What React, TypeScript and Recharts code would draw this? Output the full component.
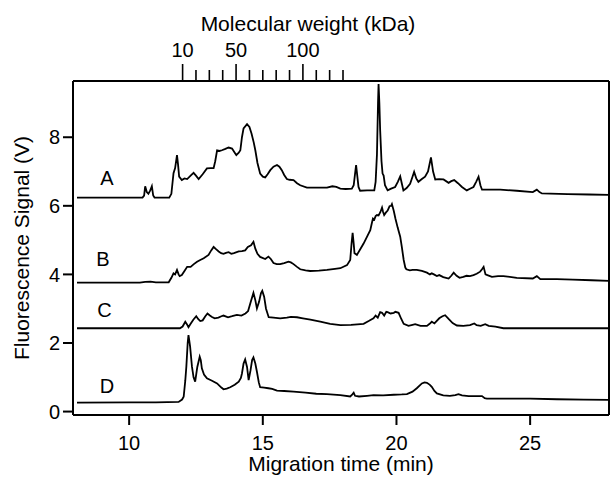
import { LineChart, Line, XAxis, YAxis, ReferenceDot } from 'recharts'

// electropherogram traces, [migration time (min), signal (V)]
const TRACE_A: [number, number][] = [
  [8.05,6.24],[10.5,6.24],[10.56,6.3],[10.6,6.57],[10.66,6.4],[10.72,6.35],[10.79,6.45],[10.85,6.57],[10.9,6.3],[10.95,6.24],
  [11.5,6.24],[11.58,6.35],[11.66,6.95],[11.72,7.1],[11.79,7.48],[11.83,7.2],[11.87,6.85],[11.97,6.75],[12.07,6.8],[12.17,6.78],
  [12.3,6.88],[12.41,6.96],[12.5,6.88],[12.6,6.78],[12.75,6.92],[12.91,7.09],[13.05,7.1],[13.16,7.1],[13.22,7.3],[13.29,7.62],
  [13.38,7.6],[13.47,7.62],[13.6,7.66],[13.72,7.7],[13.85,7.67],[13.95,7.55],[14.01,7.48],[14.1,7.55],[14.16,7.62],[14.22,8.0],
  [14.28,8.26],[14.41,8.38],[14.5,8.3],[14.58,8.1],[14.66,7.85],[14.72,7.62],[14.8,7.25],[14.9,6.94],[15.0,6.85],[15.09,6.83],
  [15.18,6.92],[15.28,7.04],[15.4,7.14],[15.53,7.19],[15.62,7.14],[15.71,7.04],[15.8,6.9],[15.9,6.78],[16.0,6.76],[16.15,6.75],
  [16.28,6.66],[16.4,6.6],[16.65,6.53],[17.0,6.53],[17.4,6.53],[17.6,6.57],[17.75,6.55],[17.9,6.5],[18.1,6.49],[18.33,6.5],
  [18.4,6.6],[18.46,7.0],[18.49,7.19],[18.53,6.9],[18.58,6.55],[18.64,6.44],[18.9,6.45],[19.17,6.45],[19.22,6.7],[19.27,7.5],
  [19.31,9.0],[19.33,9.55],[19.36,9.0],[19.39,8.2],[19.44,7.3],[19.48,6.94],[19.52,6.88],[19.57,6.6],[19.67,6.45],[19.8,6.5],
  [19.95,6.55],[20.05,6.7],[20.14,6.86],[20.2,6.65],[20.26,6.45],[20.38,6.52],[20.51,6.64],[20.6,6.85],[20.66,6.99],[20.74,6.8],
  [20.82,6.7],[20.95,6.78],[21.07,6.85],[21.18,7.0],[21.29,7.41],[21.37,7.0],[21.45,6.77],[21.6,6.78],[21.76,6.77],[21.95,6.67],
  [22.05,6.72],[22.16,6.75],[22.3,6.66],[22.45,6.55],[22.63,6.45],[22.75,6.5],[22.88,6.55],[22.98,6.7],[23.07,6.85],[23.14,6.6],
  [23.2,6.47],[23.5,6.47],[23.88,6.47],[24.5,6.44],[25.1,6.4],[25.25,6.47],[25.35,6.4],[25.44,6.36],[26.4,6.34],[27.2,6.33],[27.95,6.32],
]

const TRACE_B: [number, number][] = [
  [8.05,3.76],[10.4,3.76],[10.6,3.78],[10.8,3.79],[11.0,3.77],[11.48,3.77],[11.58,3.9],[11.66,4.03],[11.72,4.0],[11.79,4.13],
  [11.85,4.0],[11.89,3.95],[11.97,3.98],[12.07,4.1],[12.17,4.22],[12.3,4.22],[12.42,4.3],[12.54,4.37],[12.66,4.42],[12.79,4.47],
  [12.97,4.57],[13.07,4.7],[13.16,4.8],[13.26,4.73],[13.35,4.67],[13.44,4.62],[13.53,4.6],[13.62,4.63],[13.72,4.65],[13.82,4.6],
  [13.92,4.62],[14.1,4.67],[14.22,4.68],[14.34,4.7],[14.44,4.8],[14.56,4.85],[14.65,4.95],[14.72,4.75],[14.8,4.6],[14.9,4.51],
  [15.09,4.45],[15.21,4.52],[15.3,4.45],[15.4,4.33],[15.52,4.3],[15.65,4.3],[15.8,4.33],[15.96,4.37],[16.05,4.35],[16.15,4.3],
  [16.28,4.22],[16.4,4.15],[16.6,4.12],[16.77,4.1],[17.1,4.11],[17.4,4.13],[17.7,4.16],[17.9,4.18],[18.15,4.27],[18.27,4.42],
  [18.32,4.9],[18.36,5.21],[18.4,4.9],[18.43,4.62],[18.52,4.57],[18.65,4.74],[18.77,4.9],[18.9,5.1],[19.02,5.29],[19.08,5.5],
  [19.12,5.63],[19.17,5.6],[19.22,5.7],[19.27,5.73],[19.33,5.72],[19.4,5.82],[19.46,5.95],[19.5,5.82],[19.54,5.73],[19.6,5.8],
  [19.67,5.86],[19.71,5.93],[19.74,5.99],[19.8,6.0],[19.83,6.05],[19.9,5.85],[19.96,5.63],[20.05,5.35],[20.14,5.1],[20.2,4.8],
  [20.27,4.42],[20.33,4.2],[20.37,4.15],[20.5,4.12],[20.6,4.13],[20.76,4.13],[20.95,4.1],[21.14,4.05],[21.25,4.0],[21.32,4.03],
  [21.4,4.0],[21.51,3.95],[21.6,3.98],[21.75,3.92],[21.95,3.88],[22.05,3.96],[22.14,4.05],[22.25,3.96],[22.36,3.9],[22.5,3.93],
  [22.62,3.96],[22.75,3.95],[22.88,3.98],[23.0,4.02],[23.13,4.08],[23.2,4.15],[23.26,4.22],[23.33,4.0],[23.4,3.98],[23.57,3.93],
  [23.8,3.95],[24.0,3.95],[24.5,3.9],[25.1,3.88],[25.25,3.95],[25.38,3.86],[26.0,3.86],[26.6,3.85],[27.3,3.83],[27.95,3.81],
]

const TRACE_C: [number, number][] = [
  [8.05,2.43],[11.9,2.43],[12.0,2.48],[12.1,2.62],[12.16,2.55],[12.22,2.46],[12.3,2.56],[12.4,2.68],[12.51,2.78],[12.58,2.7],
  [12.66,2.64],[12.75,2.66],[12.85,2.78],[12.93,2.86],[13.02,2.8],[13.1,2.76],[13.2,2.72],[13.34,2.74],[13.45,2.78],[13.53,2.8],
  [13.7,2.75],[13.85,2.78],[14.03,2.82],[14.2,2.8],[14.35,2.86],[14.45,2.93],[14.55,3.2],[14.65,3.46],[14.72,3.25],[14.78,3.01],
  [14.86,3.2],[14.93,3.45],[14.98,3.52],[15.05,3.35],[15.12,3.0],[15.22,2.75],[15.4,2.74],[15.65,2.72],[15.9,2.74],[16.05,2.76],
  [16.28,2.75],[16.5,2.72],[16.78,2.68],[17.15,2.62],[17.52,2.56],[17.9,2.52],[18.3,2.53],[18.77,2.56],[18.96,2.64],[19.14,2.72],
  [19.22,2.8],[19.3,2.74],[19.39,2.9],[19.46,2.88],[19.54,2.8],[19.62,2.91],[19.67,2.9],[19.78,2.86],[19.9,2.88],[19.96,2.91],
  [20.08,2.88],[20.18,2.7],[20.27,2.56],[20.45,2.5],[20.6,2.53],[20.7,2.55],[20.9,2.5],[21.14,2.5],[21.24,2.56],[21.32,2.62],
  [21.42,2.57],[21.6,2.72],[21.72,2.78],[21.82,2.81],[21.95,2.7],[22.1,2.58],[22.26,2.51],[22.5,2.5],[22.75,2.52],[22.91,2.57],
  [23.0,2.52],[23.15,2.5],[23.32,2.55],[23.45,2.5],[23.7,2.48],[24.0,2.43],[25.0,2.43],[26.0,2.43],[27.95,2.43],
]

const TRACE_D: [number, number][] = [
  [8.05,0.26],[10.0,0.27],[11.0,0.27],[11.85,0.28],[11.98,0.35],[12.04,0.43],[12.1,0.9],[12.14,1.31],[12.19,2.0],[12.22,2.23],
  [12.28,1.9],[12.35,1.31],[12.41,1.0],[12.47,0.87],[12.55,1.3],[12.64,1.6],[12.68,1.5],[12.72,1.26],[12.8,1.08],[12.91,0.97],
  [13.1,0.9],[13.29,0.82],[13.45,0.7],[13.53,0.65],[13.65,0.67],[13.78,0.71],[13.95,0.78],[14.1,0.87],[14.18,0.98],[14.22,1.11],
  [14.28,1.4],[14.34,1.52],[14.41,1.3],[14.47,0.92],[14.54,1.2],[14.6,1.5],[14.65,1.58],[14.72,1.4],[14.78,1.16],[14.85,0.85],
  [14.9,0.71],[15.05,0.7],[15.21,0.68],[15.35,0.66],[15.53,0.61],[15.8,0.6],[16.15,0.58],[16.6,0.55],[17.0,0.52],[17.4,0.51],
  [17.9,0.48],[18.27,0.44],[18.35,0.5],[18.4,0.55],[18.45,0.46],[18.6,0.44],[18.9,0.46],[19.14,0.48],[19.5,0.47],[19.9,0.49],
  [20.2,0.5],[20.39,0.51],[20.6,0.58],[20.76,0.68],[20.95,0.82],[21.05,0.85],[21.14,0.84],[21.25,0.78],[21.32,0.72],[21.42,0.6],
  [21.51,0.53],[21.75,0.47],[22.0,0.46],[22.2,0.48],[22.32,0.51],[22.45,0.47],[22.7,0.45],[23.0,0.45],[23.2,0.45],[23.3,0.39],
  [23.38,0.38],[24.0,0.38],[25.0,0.38],[26.0,0.36],[27.0,0.35],[27.95,0.34],
]

const TIME_TICKS = [10, 15, 20, 25]
const SIGNAL_TICKS = [0, 2, 4, 6, 8]
// top axis: molecular weight markers placed at migration times
const MW_TICK_TIMES = [12, 12.5, 13, 13.5, 14, 14.5, 15, 15.5, 16, 16.5, 17, 17.5, 18]
const MW_TICK_LABELS = ['10', '', '', '', '50', '', '', '', '', '100', '', '', '']

const TRACE_NAMES = ['A', 'B', 'C', 'D']
const NAME_TIMES = [9.17, 9.02, 9.08, 9.17]
const NAME_SIGNALS = [6.8, 4.44, 2.96, 0.74]

const X_DOMAIN: [number, number] = [7.9, 27.95]
const Y_DOMAIN: [number, number] = [-0.1, 9.64]

const toPoints = (pairs: [number, number][]) => pairs.map(([t, v]) => ({ t, v }))
const traces = [TRACE_A, TRACE_B, TRACE_C, TRACE_D].map(toPoints)

const FONT = '"Liberation Sans", Arial, Helvetica, sans-serif'

function MwTick(props: any) {
  const { x, y, payload } = props
  const label = MW_TICK_LABELS[MW_TICK_TIMES.indexOf(payload.value)]
  const major = label !== ''
  return (
    <g>
      <line x1={x} x2={x} y1={y} y2={y - (major ? 17 : 11)} stroke="#000" strokeWidth={1.6} />
      {major && (
        <text x={x} y={y - 24} textAnchor="middle" fontSize={20} fill="#000" fontFamily={FONT}>
          {label}
        </text>
      )}
    </g>
  )
}

export default function App() {
  const axisLine = { stroke: '#000', strokeWidth: 2 }
  const tickStyle = { fill: '#000', fontSize: 20, fontFamily: FONT }
  return (
    <div style={{ width: 616, height: 477, background: '#fff', fontFamily: FONT }}>
      <style>{'body{margin:0}'}</style>
      <LineChart width={616} height={477} margin={{ top: 0, right: 0, bottom: 0, left: 0 }}>
        <XAxis
          dataKey="t"
          type="number"
          domain={X_DOMAIN}
          ticks={TIME_TICKS}
          allowDataOverflow
          height={62}
          axisLine={axisLine}
          tickLine={{ stroke: '#000', strokeWidth: 2 }}
          tickSize={10}
          tickMargin={11}
          tick={tickStyle}
          label={{ value: 'Migration time (min)', position: 'insideBottom', offset: 6, fill: '#000', fontSize: 21, fontFamily: FONT }}
        />
        <XAxis
          xAxisId="top"
          dataKey="t"
          orientation="top"
          type="number"
          domain={X_DOMAIN}
          ticks={MW_TICK_TIMES}
          interval={0}
          allowDataOverflow
          height={81}
          axisLine={axisLine}
          tickLine={false}
          tickSize={0}
          tickMargin={0}
          tick={<MwTick />}
          label={{ value: 'Molecular weight (kDa)', position: 'insideTop', offset: 16, dx: -33, fill: '#000', fontSize: 21, fontFamily: FONT }}
        />
        <YAxis
          type="number"
          domain={Y_DOMAIN}
          ticks={SIGNAL_TICKS}
          allowDataOverflow
          width={73}
          axisLine={axisLine}
          tickLine={{ stroke: '#000', strokeWidth: 2 }}
          tickSize={10}
          tickMargin={3}
          tick={tickStyle}
          label={{ value: 'Fluorescence Signal (V)', angle: -90, position: 'insideLeft', offset: 22, fill: '#000', fontSize: 21, fontFamily: FONT, style: { textAnchor: 'middle' } }}
        />
        <YAxis
          yAxisId="right"
          orientation="right"
          type="number"
          domain={Y_DOMAIN}
          allowDataOverflow
          width={7}
          axisLine={axisLine}
          tick={false}
          tickLine={false}
        />
        {traces.map((d, i) => (
          <Line
            key={TRACE_NAMES[i]}
            data={d}
            dataKey="v"
            type="linear"
            // trace A sits on the top/right axes (same scales) so the frame axes get drawn
            xAxisId={i === 0 ? 'top' : 0}
            yAxisId={i === 0 ? 'right' : 0}
            stroke="#000"
            strokeWidth={1.8}
            dot={false}
            activeDot={false}
            isAnimationActive={false}
          />
        ))}
        {TRACE_NAMES.map((n, i) => (
          <ReferenceDot
            key={n}
            x={NAME_TIMES[i]}
            y={NAME_SIGNALS[i]}
            r={0}
            fill="none"
            stroke="none"
            label={{ value: n, position: 'center', fill: '#000', fontSize: 20, fontFamily: FONT }}
          />
        ))}
      </LineChart>
    </div>
  )
}
